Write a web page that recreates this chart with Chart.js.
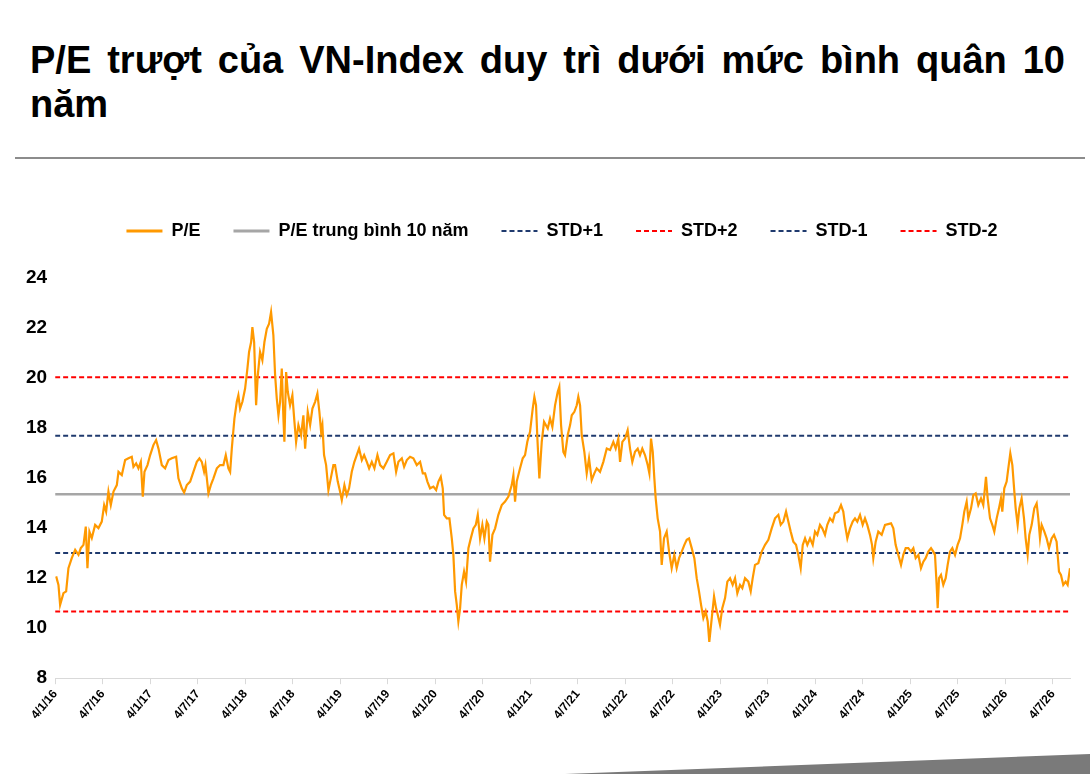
<!DOCTYPE html>
<html>
<head>
<meta charset="utf-8">
<script src="https://cdn.jsdelivr.net/npm/chart.js@4.4.1/dist/chart.umd.min.js"></script>
<style>
  html, body { margin: 0; padding: 0; background: #fff; }
  body { width: 1090px; height: 774px; position: relative; overflow: hidden; font-family: "Liberation Sans", Arial, sans-serif; }
  #title { position: absolute; left: 30px; top: 38px; width: 1035px; font-weight: bold; font-size: 38px; line-height: 44px; text-align: justify; color: #000; }
  #rule { position: absolute; left: 15px; top: 157px; width: 1070px; height: 2px; background: #8c8c8c; }
  #chartBox { position: absolute; left: 0; top: 183px; width: 1090px; height: 542px; }
  #swoosh { position: absolute; left: 0; top: 0; width: 1090px; height: 774px; background: #7a7a7a; clip-path: polygon(565px 774px, 1090px 754px, 1090px 774px); }
</style>
</head>
<body>
<div id="title">P/E trượt của VN-Index duy trì dưới mức bình quân 10 năm</div>
<div id="rule"></div>
<div id="chartBox"><canvas id="myChart"></canvas></div>
<div id="swoosh"></div>
<script>
// x tick labels, one every 6 months (x = months from 4/1/16)
var tickLabels = ['4/1/16', '4/7/16', '4/1/17', '4/7/17', '4/1/18', '4/7/18', '4/1/19', '4/7/19',
  '4/1/20', '4/7/20', '4/1/21', '4/7/21', '4/1/22', '4/7/22', '4/1/23', '4/7/23',
  '4/1/24', '4/7/24', '4/1/25', '4/7/25', '4/1/26', '4/7/26'];
var xEnd = 128.16;

// trailing P/E
var peMonths = [0.13, 0.42, 0.63, 1.05, 1.39, 1.68, 2.1, 2.53, 2.95, 3.24, 3.58, 3.87, 4.08, 4.33, 4.63, 5.05, 5.47, 5.89, 6.19, 6.44,
  6.73, 7.03, 7.37, 7.79, 8.0, 8.42, 8.84, 9.26, 9.68, 9.89, 10.23, 10.52, 10.82, 11.07, 11.28, 11.66, 12.0, 12.41, 12.75, 13.05,
  13.47, 13.89, 14.31, 14.73, 15.28, 15.57, 16.0, 16.29, 16.63, 17.05, 17.46, 17.89, 18.22, 18.52, 18.81, 18.98, 19.36, 19.66, 19.99, 20.42,
  20.83, 21.25, 21.55, 21.88, 22.1, 22.31, 22.64, 22.94, 23.14, 23.36, 23.65, 23.99, 24.28, 24.49, 24.75, 24.91, 25.13, 25.38, 25.59, 25.88,
  26.17, 26.43, 26.73, 27.02, 27.27, 27.56, 27.78, 27.99, 28.2, 28.41, 28.62, 28.83, 28.95, 29.17, 29.38, 29.67, 29.96, 30.22, 30.43, 30.72,
  31.06, 31.35, 31.57, 31.9, 32.2, 32.49, 32.83, 33.12, 33.37, 33.59, 33.75, 33.96, 34.22, 34.51, 34.81, 35.14, 35.35, 35.69, 35.98, 36.2,
  36.53, 36.83, 37.12, 37.46, 37.79, 38.09, 38.38, 38.73, 39.02, 39.36, 39.65, 39.99, 40.32, 40.7, 41.04, 41.45, 41.88, 42.3, 42.72, 43.06,
  43.35, 43.78, 44.07, 44.41, 44.82, 45.24, 45.67, 46.09, 46.43, 46.72, 47.01, 47.35, 47.77, 48.11, 48.4, 48.7, 48.95, 49.12, 49.46, 49.79,
  50.09, 50.29, 50.51, 50.72, 50.92, 51.14, 51.35, 51.64, 51.89, 52.19, 52.49, 52.82, 53.12, 53.37, 53.66, 53.95, 54.21, 54.51, 54.71, 54.92,
  55.22, 55.56, 55.97, 56.4, 56.82, 57.24, 57.66, 57.87, 58.08, 58.29, 58.71, 59.05, 59.34, 59.63, 59.97, 60.31, 60.52, 60.73, 60.9, 61.15,
  61.45, 61.74, 62.21, 62.5, 62.79, 63.13, 63.47, 63.67, 63.89, 64.18, 64.39, 64.73, 65.03, 65.24, 65.57, 65.87, 66.07, 66.29, 66.5, 66.83,
  67.13, 67.42, 67.76, 68.09, 68.39, 68.81, 69.23, 69.66, 70.08, 70.49, 70.79, 71.12, 71.34, 71.63, 71.97, 72.3, 72.6, 72.89, 73.23, 73.57,
  73.86, 74.15, 74.49, 74.83, 75.04, 75.25, 75.47, 75.67, 75.84, 76.09, 76.39, 76.6, 76.89, 77.23, 77.53, 77.86, 78.19, 78.49, 78.79, 79.13,
  79.46, 79.76, 80.05, 80.39, 80.72, 81.02, 81.31, 81.57, 81.86, 82.15, 82.41, 82.61, 82.92, 83.21, 83.46, 83.63, 83.96, 84.25, 84.6, 84.89,
  85.23, 85.56, 85.86, 86.15, 86.49, 86.78, 87.12, 87.54, 87.84, 88.09, 88.38, 88.8, 89.23, 89.65, 90.07, 90.49, 90.91, 91.33, 91.63, 91.96,
  92.3, 92.59, 92.89, 93.22, 93.56, 93.85, 94.15, 94.41, 94.7, 94.99, 95.33, 95.67, 95.96, 96.25, 96.59, 96.88, 97.22, 97.51, 97.85, 98.19,
  98.48, 98.9, 99.24, 99.53, 99.75, 100.04, 100.38, 100.72, 101.01, 101.3, 101.64, 101.98, 102.27, 102.56, 102.9, 103.16, 103.32, 103.62, 103.95, 104.38,
  104.8, 105.56, 105.85, 106.14, 106.48, 106.82, 107.11, 107.41, 107.74, 108.08, 108.38, 108.67, 109.01, 109.34, 109.64, 109.93, 110.27, 110.61, 110.9, 111.11,
  111.32, 111.45, 111.62, 111.87, 112.16, 112.46, 112.71, 113.0, 113.3, 113.64, 113.97, 114.27, 114.56, 114.81, 115.11, 115.32, 115.66, 115.95, 116.25, 116.58,
  116.92, 117.21, 117.55, 117.76, 118.06, 118.35, 118.6, 118.9, 119.19, 119.44, 119.61, 119.86, 120.16, 120.37, 120.62, 120.88, 121.13, 121.3, 121.55, 121.76,
  122.05, 122.35, 122.56, 122.81, 123.02, 123.32, 123.65, 123.95, 124.16, 124.37, 124.58, 124.92, 125.21, 125.51, 125.84, 126.14, 126.47, 126.77, 127.02, 127.31,
  127.61, 127.86, 128.16];
var peValues = [12.07, 11.73, 10.93, 11.4, 11.47, 12.4, 12.8, 13.13, 12.93, 13.2, 13.33, 14.06, 12.4, 13.86, 13.6, 14.13, 14.0, 14.26, 14.92, 14.66,
  15.46, 14.92, 15.46, 15.72, 16.25, 16.12, 16.72, 16.79, 16.85, 16.45, 16.59, 16.39, 16.65, 15.26, 16.25, 16.52, 16.92, 17.32, 17.52, 17.18,
  16.52, 16.39, 16.72, 16.79, 16.85, 15.99, 15.59, 15.42, 15.72, 15.86, 16.25, 16.65, 16.79, 16.65, 16.25, 16.52, 15.39, 15.72, 15.99, 16.39,
  16.52, 16.52, 16.92, 16.39, 16.25, 17.18, 18.38, 19.05, 19.31, 18.78, 19.05, 19.58, 20.38, 21.04, 21.44, 22.04, 21.44, 18.91, 20.11, 21.04,
  20.71, 21.44, 21.97, 22.17, 22.64, 21.71, 20.11, 19.18, 18.51, 19.05, 20.38, 18.38, 17.45, 20.24, 19.45, 18.91, 19.31, 18.25, 17.45, 18.12,
  17.72, 18.51, 17.18, 18.65, 18.12, 18.78, 19.05, 19.38, 18.65, 17.85, 18.12, 16.92, 16.52, 15.52, 15.99, 16.52, 16.52, 15.86, 15.46, 15.12,
  15.72, 15.32, 15.59, 16.25, 16.65, 16.92, 17.18, 16.72, 16.92, 16.65, 16.39, 16.65, 16.39, 16.92, 16.52, 16.39, 16.65, 16.92, 16.99, 16.25,
  16.65, 16.79, 16.45, 16.72, 16.85, 16.79, 16.52, 16.65, 16.19, 16.19, 15.86, 15.59, 15.66, 15.52, 15.86, 16.05, 15.59, 14.53, 14.39, 14.39,
  13.59, 12.93, 11.47, 10.93, 10.27, 10.8, 11.73, 12.26, 11.86, 13.2, 13.59, 13.99, 14.13, 14.53, 13.59, 14.13, 13.59, 14.26, 14.13, 12.66,
  13.73, 13.99, 14.53, 14.92, 15.06, 15.26, 15.72, 16.12, 15.06, 15.86, 16.39, 16.79, 16.92, 17.45, 17.85, 18.78, 19.25, 18.91, 17.58, 15.99,
  17.45, 18.25, 17.98, 18.38, 18.05, 18.91, 19.45, 19.65, 18.12, 17.05, 16.92, 17.72, 18.12, 18.51, 18.65, 18.91, 19.25, 18.91, 17.72, 17.05,
  16.19, 16.79, 15.92, 16.19, 16.39, 16.25, 16.65, 17.18, 17.12, 17.45, 17.18, 17.58, 16.65, 17.45, 17.58, 17.92, 17.18, 16.65, 17.05, 17.18,
  16.92, 17.18, 16.92, 16.52, 16.19, 17.58, 17.05, 15.99, 15.19, 14.39, 13.86, 12.53, 13.59, 13.86, 13.06, 12.4, 12.93, 12.4, 12.8, 13.06,
  13.33, 13.53, 13.59, 13.2, 12.8, 12.0, 11.47, 10.93, 10.4, 10.67, 10.27, 9.45, 10.4, 11.27, 10.8, 10.6, 10.14, 10.8, 11.2, 11.86,
  12.0, 11.73, 12.0, 11.4, 11.73, 11.6, 12.0, 11.86, 11.47, 12.0, 12.53, 12.6, 13.06, 13.33, 13.53, 13.99, 14.39, 14.53, 14.13, 14.26,
  14.66, 14.26, 13.86, 13.46, 13.33, 12.93, 12.4, 13.33, 13.59, 13.33, 13.59, 13.33, 13.86, 13.73, 14.13, 13.99, 13.73, 14.13, 14.39, 14.26,
  14.59, 14.66, 14.92, 14.66, 14.13, 13.59, 13.99, 14.26, 14.39, 14.26, 14.53, 14.13, 14.39, 14.13, 13.73, 13.33, 12.8, 13.46, 13.86, 13.73,
  14.13, 14.19, 13.99, 13.33, 12.93, 12.53, 12.93, 13.2, 13.2, 13.06, 13.2, 12.8, 12.93, 12.4, 12.66, 12.8, 13.06, 13.2, 13.06, 12.93,
  11.73, 10.8, 12.0, 12.13, 11.73, 12.0, 12.53, 13.06, 13.2, 12.93, 13.33, 13.59, 14.13, 14.66, 15.06, 14.39, 14.79, 15.32, 15.39, 14.92,
  15.19, 14.92, 16.05, 15.19, 14.39, 14.13, 13.86, 14.39, 14.79, 15.19, 14.66, 15.59, 15.86, 16.39, 16.99, 16.52, 15.46, 14.79, 14.13, 14.79,
  15.19, 14.39, 13.59, 12.93, 13.73, 14.13, 14.79, 14.99, 14.39, 13.59, 14.13, 13.86, 13.59, 13.2, 13.59, 13.73, 13.46, 12.26, 12.13, 11.73,
  11.86, 11.73, 12.4];

// reference levels: 10y average and +/- 1, 2 standard deviations
var bandNames = ['P/E trung bình 10 năm', 'STD+1', 'STD+2', 'STD-1', 'STD-2'];
var bandValues = [15.35, 17.69, 20.03, 13.01, 10.67];
var bandColors = ['#a6a6a6', '#1f3a6e', '#ff0000', '#1f3a6e', '#ff0000'];

var datasets = [{
  label: 'P/E',
  data: peMonths.map(function (m, i) { return { x: m, y: peValues[i] }; }),
  borderColor: '#ff9900',
  backgroundColor: '#ff9900',
  borderWidth: 2.2,
  pointRadius: 0,
  tension: 0
}];
for (var i = 0; i < bandNames.length; i++) {
  datasets.push({
    label: bandNames[i],
    data: [{ x: 0, y: bandValues[i] }, { x: xEnd, y: bandValues[i] }],
    borderColor: bandColors[i],
    backgroundColor: bandColors[i],
    borderWidth: i === 0 ? 2.5 : 2,
    borderDash: i === 0 ? [] : [5, 3],
    pointRadius: 0
  });
}

// push the plot down below the legend, and nudge the legend right
var legendTweak = {
  id: 'legendTweak',
  beforeInit: function (chart) {
    var fit = chart.legend.fit;
    chart.legend.fit = function () {
      fit.bind(chart.legend)();
      this.height += 28;
    };
  },
  afterLayout: function (chart) {
    chart.legend.left += 14;
    chart.legend.right += 14;
  }
};

var font = '"Liberation Sans", Arial, sans-serif';
const ctx = document.getElementById('myChart');
new Chart(ctx, {
  type: 'line',
  data: { datasets: datasets },
  plugins: [legendTweak],
  options: {
    animation: false,
    responsive: true,
    maintainAspectRatio: false,
    layout: { padding: { left: 26, right: 20, top: 6, bottom: 0 } },
    plugins: {
      legend: {
        position: 'top',
        labels: {
          usePointStyle: true,
          pointStyle: 'line',
          pointStyleWidth: 36,
          boxHeight: 10,
          padding: 33,
          color: '#000',
          font: { family: font, size: 18, weight: 'bold' },
          generateLabels: function (chart) {
            var items = Chart.defaults.plugins.legend.labels.generateLabels(chart);
            items.forEach(function (it) {
              var ds = chart.data.datasets[it.datasetIndex];
              var dashed = ds.borderDash && ds.borderDash.length > 0;
              it.lineDash = dashed ? ds.borderDash : [];
              it.strokeStyle = ds.borderColor;
              it.lineWidth = dashed ? 2 : 3;
            });
            return items;
          }
        }
      },
      tooltip: { enabled: false }
    },
    scales: {
      x: {
        type: 'linear',
        min: 0,
        max: xEnd,
        afterBuildTicks: function (scale) {
          scale.ticks = tickLabels.map(function (t, k) { return { value: k * 6 }; });
        },
        ticks: {
          autoSkip: false,
          minRotation: 50,
          maxRotation: 50,
          color: '#000',
          font: { family: font, size: 12, weight: 'bold' },
          callback: function (v) { return tickLabels[Math.round(v / 6)]; }
        },
        grid: { drawOnChartArea: false, drawTicks: true, tickLength: 6, color: '#d9d9d9' },
        border: { color: '#d9d9d9' }
      },
      y: {
        min: 8,
        max: 24,
        ticks: {
          stepSize: 2,
          padding: 0,
          color: '#000',
          font: { family: font, size: 19, weight: 'bold' }
        },
        grid: { display: false },
        border: { display: false }
      }
    }
  }
});
</script>
</body>
</html>
